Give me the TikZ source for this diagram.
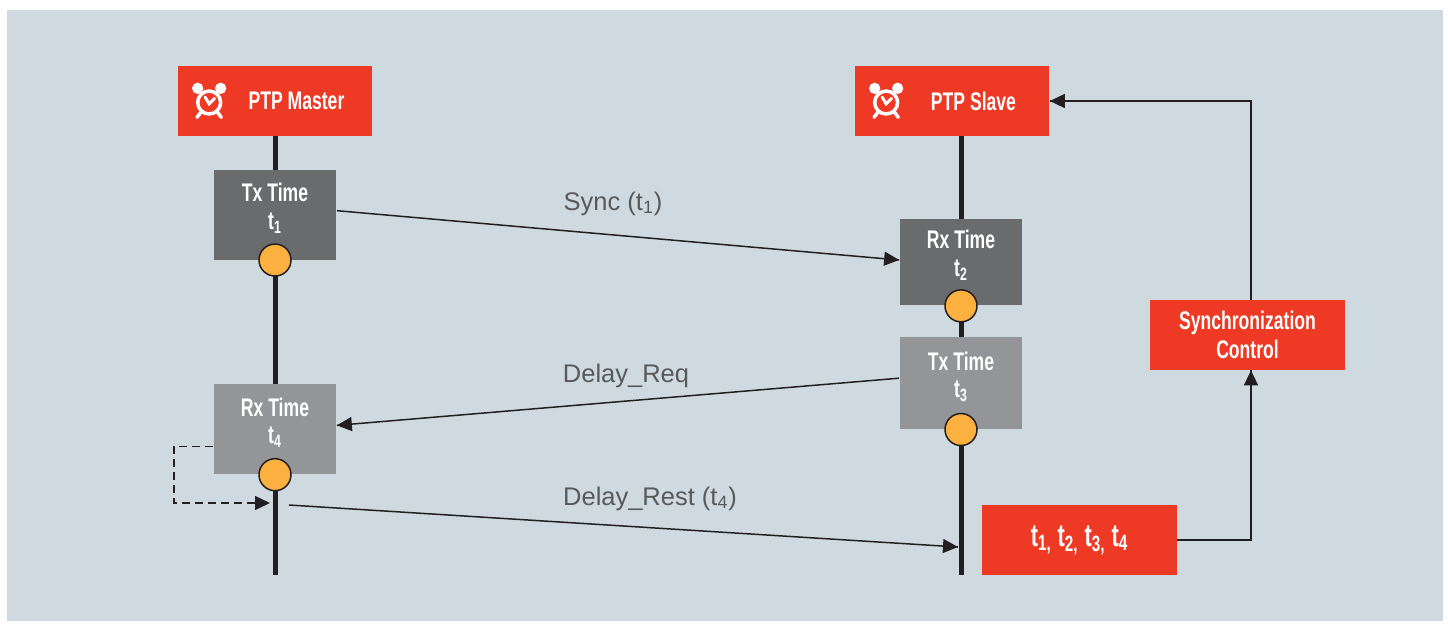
\documentclass[tikz,border=0pt]{standalone}
\usepackage{fontspec}
\setmainfont{Liberation Sans}
\newfontfamily\condensed{Liberation Sans}[FakeStretch=0.69]
\usetikzlibrary{arrows.meta}
\usetikzlibrary{decorations.markings}
\usetikzlibrary{positioning}
\definecolor{ptpred}{RGB}{238,57,36}
\definecolor{darkbox}{RGB}{106,107,109}
\definecolor{lightbox}{RGB}{147,149,152}
\definecolor{stamporange}{RGB}{251,176,64}
\definecolor{ink}{RGB}{35,31,32}
\definecolor{msggray}{RGB}{88,89,91}
\definecolor{bg}{RGB}{206,218,223}
\tikzset{arr/.style = {decoration={markings,
                                   mark=at position 1 with {\arrow[ink]{Triangle[length=0.3cm,width=0.28cm]}}},
                       postaction={decorate, solid}}}
\tikzset{redbox/.style = {fill=ptpred, text=white, inner sep=0,
                          minimum width=3.9cm, minimum height=1.4cm, align=center,
                          font=\condensed\bfseries\fontsize{14.5}{16}\selectfont}}
\tikzset{graybox/.style = {text=white, inner sep=0, minimum width=2.46cm,
                           minimum height=1.8cm, align=center, text depth=0.34cm,
                           font=\condensed\bfseries\fontsize{14.5}{15.8}\selectfont}}
\tikzset{stamp/.style = {circle, draw=ink, fill=stamporange, line width=0.03cm,
                         minimum size=0.64cm, inner sep=0}}
\tikzset{msg/.style = {text=msggray, anchor=base, font=\fontsize{14.5}{17}\selectfont}}
\tikzset{timeline/.style = {draw=ink, line width=0.1cm}}
\tikzset{wire/.style = {draw=ink, line width=0.03cm}}
\tikzset{clock/.pic = {
    \fill [white] (-8.5, -10.5) circle [radius = 4.2];
    \fill [white] (8.5, -10.5) circle [radius = 4.2];
    \draw [white, line width = 0.07cm, line cap = round] (-6, 7) -- (-9, 11);
    \draw [white, line width = 0.07cm, line cap = round] (6, 7) -- (9, 11);
    \draw [white, fill = ptpred, line width = 0.07cm] (0, 0) circle [radius = 8.5];
    \draw [white, line width = 0.06cm, line cap = round] (-3, -4) -- (0, 1) -- (4, -3);}}

\begin{document}
\begin{tikzpicture}[x = 0.02cm, y = -0.02cm]
    \useasboundingbox (0, 0) rectangle (1448, 623);
    \fill [bg] (7, 10) rectangle (1443, 621);

    \node [redbox] (master) at (275, 101) {\hspace{0.86cm}PTP Master};
    \node [redbox] (slave) at (952, 101) {\hspace{0.86cm}PTP Slave};
    \pic [scale = 1.35] at ([xshift = 0.64cm, yshift = -0.03cm]master.west) {clock};
    \pic [scale = 1.35] at ([xshift = 0.64cm, yshift = -0.03cm]slave.west) {clock};

    \coordinate (mend) at (275, 575);
    \coordinate (send) at (961, 575);
    \draw [timeline] (master.south) -- (mend);
    \draw [timeline] (send |- slave.south) -- (send);

    \node [graybox, fill = darkbox, below = 0.66cm of master] (tx1) {Tx Time\\t\textsubscript{1}};
    \node [graybox, fill = lightbox, below = 2.48cm of tx1] (rx4) {Rx Time\\t\textsubscript{4}};
    \node [graybox, fill = darkbox, minimum height = 1.74cm] (rx2) at (961, 262) {Rx Time\\t\textsubscript{2}};
    \node [graybox, fill = lightbox, minimum height = 1.84cm, below = 0.62cm of rx2] (tx3) {Tx Time\\t\textsubscript{3}};
    \node [stamp] (c1) at (tx1.south) {};
    \node [stamp] (c4) at (rx4.south) {};
    \node [stamp] (c2) at (rx2.south) {};
    \node [stamp] (c3) at (tx3.south) {};

    \node [redbox, font = \condensed\bfseries\fontsize{18}{19}\selectfont] (tbox) at (1079.5, 540)
        {t\textsubscript{1,}\ t\textsubscript{2,}\ t\textsubscript{3,}\ t\textsubscript{4}};
    \node [redbox, font = \condensed\bfseries\fontsize{14.5}{16.5}\selectfont] (sync) at (1247.5, 335)
        {Synchronization\\Control};

    % messages
    \draw [wire, arr] ([yshift = 0.08cm]tx1.east) -- ([yshift = 0.04cm]rx2.west);
    \draw [wire, arr] ([yshift = 0.1cm]tx3.west) -- ([yshift = 0.08cm]rx4.east);
    \coordinate (rest0) at (289, 505);
    \coordinate (rest1) at (958, 547);
    \draw [wire, arr] (rest0) -- (rest1);
    \coordinate (loop) at (270, 503);
    \draw [wire, dashed, dash pattern = on 0.16cm off 0.1cm, arr]
        ([yshift = -0.34cm]rx4.west) -- ++(-39, 0) |- (loop);

    \node [msg] (synclbl) at (613, 210) {Sync (t\textsubscript{1})};
    \node [msg] (reqlbl) at (626, 382) {Delay\_Req};
    \node [msg] (restlbl) at (650, 505) {Delay\_Rest (t\textsubscript{4})};

    % control loop
    \draw [wire, arr] (tbox.east) -| ([xshift = 0.07cm]sync.south);
    \draw [wire, arr] ([xshift = 0.07cm]sync.north) |- (slave.east);
  \end{tikzpicture}
\end{document}
